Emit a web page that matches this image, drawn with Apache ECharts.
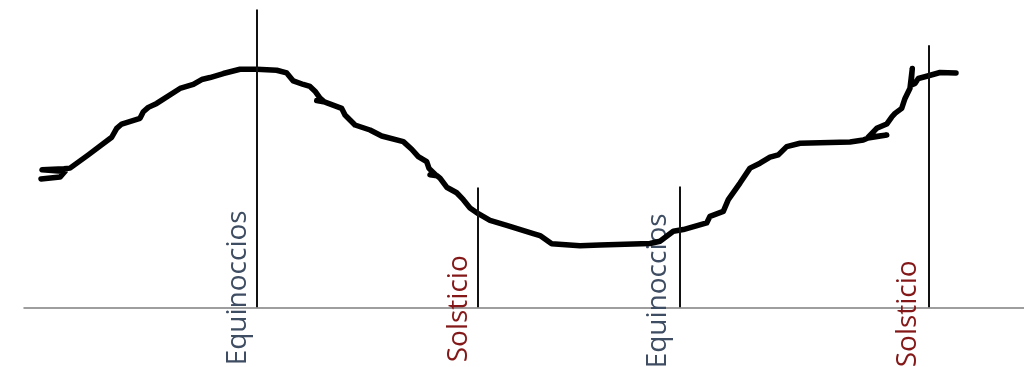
<!DOCTYPE html>
<html>
<head>
<meta charset="utf-8">
<script src="https://cdn.jsdelivr.net/npm/echarts@6/dist/echarts.min.js"></script>
<style>
html,body{margin:0;padding:0;background:#fff;}
#chart{width:1024px;height:367px;}
</style>
</head>
<body>
<div id="chart"></div>
<script>
// Curve (hand-drawn stroke), in arbitrary chart units
const curveX = [1.70,3.60,4.10,4.20,1.80,4.00,4.60,6.43,8.77,9.27,9.77,11.60,11.93,12.43,13.27,15.60,16.93,17.77,18.60,19.93,21.60,23.27,25.27,26.27,26.93,27.93,28.60,29.10,29.60,30.00,29.27,30.10,31.77,32.10,33.10,34.60,35.77,37.93,38.77,39.43,40.27,40.50,41.20,40.60,41.30,41.60,42.27,43.27,43.93,44.60,45.43,46.60,48.27,50.93,51.60,52.77,55.60,57.60,62.60,63.60,64.93,65.93,68.27,68.60,69.93,70.43,71.60,72.60,73.60,74.60,75.43,76.27,77.60,82.60,83.93,84.40,86.27,84.40,85.27,86.27,86.77,87.10,87.77,88.10,88.60,88.83,88.70,89.10,89.43,90.27,91.60,93.20];
const curveY = [42.90,43.57,45.43,46.00,46.00,46.33,46.57,51.00,56.90,59.90,61.33,63.23,65.43,66.90,68.23,73.23,74.57,76.23,76.90,78.23,79.67,79.67,79.33,78.43,75.77,74.57,73.90,72.33,70.00,68.83,69.17,68.67,66.57,64.33,61.00,59.33,57.33,55.43,52.90,50.43,48.77,46.50,44.17,44.33,44.00,43.23,40.17,38.33,36.00,33.23,31.33,29.10,27.43,24.67,24.00,21.23,20.60,20.83,21.33,22.10,25.43,26.00,28.23,30.43,32.10,36.00,41.57,46.57,48.23,50.23,51.00,53.77,54.90,55.33,56.00,56.67,57.67,56.83,59.90,61.33,63.67,64.90,66.57,69.90,73.33,79.90,74.33,74.90,76.57,77.33,78.57,78.43];

// Vertical marker lines
const markerNames = ["Equinoccios","Solsticio","Equinoccios","Solsticio"];
const markerX = [23.27,45.33,65.60,90.43];
const markerTop = [99.70,40.10,40.40,87.70];
// Label anchor positions (centre of rotated text)
const labelX = [21.45,43.55,63.45,88.45];
const labelY = [6.5,-0.5,5.5,-2.2];

const labelColors = {"Equinoccios":"#3f4d63","Solsticio":"#841717"};

const chart = echarts.init(document.getElementById('chart'), null, {renderer:'canvas'});

const curveData = curveX.map((x,i)=>[x,curveY[i]]);
const markLineData = markerX.map((x,i)=>[{coord:[x,0]},{coord:[x,markerTop[i]]}]);
const labelData = markerNames.map((n,i)=>({
  value:[labelX[i],labelY[i]],
  name:n,
  label:{color:labelColors[n]}
}));

chart.setOption({
  animation:false,
  backgroundColor:'#ffffff',
  grid:{left:24,right:0,top:8.5,height:360,containLabel:false},
  xAxis:{
    type:'value',min:0,max:100,
    axisLine:{show:true,onZero:true,lineStyle:{color:'#7f7f7f',width:1.5}},
    axisTick:{show:false},axisLabel:{show:false},splitLine:{show:false}
  },
  yAxis:{
    type:'value',min:-20,max:100,
    axisLine:{show:false},axisTick:{show:false},axisLabel:{show:false},splitLine:{show:false}
  },
  series:[
    {
      type:'line',
      data:curveData,
      showSymbol:false,symbol:'none',
      smooth:false,
      clip:false,
      lineStyle:{color:'#000000',width:5.5,join:'round',cap:'round'},
      z:3
    },
    {
      type:'scatter',
      data:labelData,
      symbolSize:0,
      clip:false,
      itemStyle:{opacity:1},
      label:{
        show:true,
        position:'inside',
        formatter:p=>p.name,
        rotate:90,
        align:'center',
        verticalAlign:'middle',
        fontFamily:'Open Sans',
        fontSize:28,
        opacity:1
      },
      markLine:{
        silent:true,
        symbol:['none','none'],
        label:{show:false},
        lineStyle:{color:'#111111',width:2,type:'solid',opacity:1},
        data:markLineData
      },
      z:2
    }
  ]
});
</script>
</body>
</html>
